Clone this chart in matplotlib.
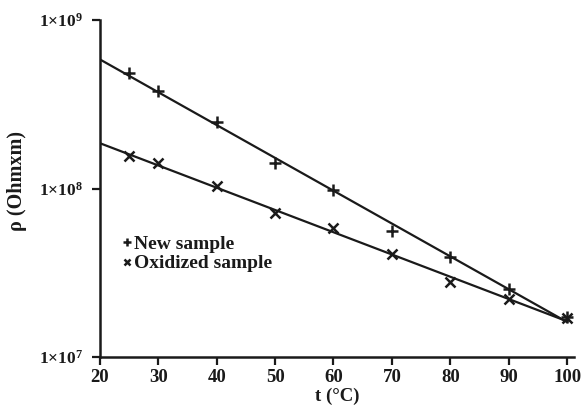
import numpy as np
import matplotlib
matplotlib.use("Agg")
import matplotlib.pyplot as plt
from matplotlib.ticker import FixedLocator, NullLocator

# -------------------------
# DATA
# -------------------------
temp_c = [25, 30, 40, 50, 60, 70, 80, 90, 100]
rho_new = [4.84e8, 3.79e8, 2.48e8, 1.42e8, 9.8e7, 5.6e7, 3.93e7, 2.54e7, 1.73e7]
rho_oxidized = [1.57e8, 1.41e8, 1.03e8, 7.13e7, 5.8e7, 4.06e7, 2.77e7, 2.21e7, 1.70e7]

x_ticks = [20, 30, 40, 50, 60, 70, 80, 90, 100]
y_ticks = [1e7, 1e8, 1e9]
y_tick_labels = [r"1×10$^{7}$", r"1×10$^{8}$", r"1×10$^{9}$"]

# -------------------------
# STYLE
# -------------------------
plt.rcParams["font.family"] = ["Liberation Serif", "DejaVu Serif"]
plt.rcParams["font.weight"] = "bold"
plt.rcParams["axes.labelweight"] = "bold"
plt.rcParams["mathtext.fontset"] = "custom"
plt.rcParams["mathtext.rm"] = "Liberation Serif:bold"
plt.rcParams["mathtext.it"] = "Liberation Serif:bold:italic"
plt.rcParams["mathtext.bf"] = "Liberation Serif:bold"

INK = "#1a1a1a"
FS = 13.5
LW = 1.6


def exp_fit_line(x, y, x0, x1):
    """Straight line in log space (least squares), evaluated on [x0, x1]."""
    k, b = np.polyfit(x, np.log10(y), 1)
    xs = np.array([x0, x1])
    return xs, 10 ** (k * xs + b)


fig = plt.figure(figsize=(5.84, 4.19), dpi=100)
ax = fig.add_axes([0.171, 0.148, 0.812, 0.804])

ax.set_yscale("log")

xs, ys = exp_fit_line(temp_c, rho_new, 20, 100)
ax.plot(xs, ys, color=INK, lw=LW)
xs, ys = exp_fit_line(temp_c, rho_oxidized, 20, 100)
ax.plot(xs, ys, color=INK, lw=LW)

ax.plot(temp_c, rho_new, linestyle="none", marker="+", ms=9, mew=1.8,
        color=INK, label="New sample")
ax.plot(temp_c, rho_oxidized, linestyle="none", marker="x", ms=7, mew=1.8,
        color=INK, label="Oxidized sample")

ax.set_xlim(20, 101.2)
ax.set_ylim(1e7, 1e9)

ax.xaxis.set_major_locator(FixedLocator(x_ticks))
ax.set_xticklabels([str(t) for t in x_ticks])
ax.yaxis.set_major_locator(FixedLocator(y_ticks))
ax.yaxis.set_minor_locator(NullLocator())
ax.set_yticklabels(y_tick_labels, fontsize=12.5)

ax.tick_params(axis="both", direction="out", length=6, width=1.6,
               color=INK, labelcolor=INK)
ax.tick_params(axis="x", labelsize=FS, pad=3)
ax.tick_params(axis="y", pad=6)

for side in ["top", "right"]:
    ax.spines[side].set_visible(False)
for side in ["left", "bottom"]:
    ax.spines[side].set_linewidth(1.8)
    ax.spines[side].set_color(INK)

ax.set_xlabel("t (°C)", fontsize=FS, color=INK, labelpad=1)
ax.set_ylabel("ρ (Ohmxm)", fontsize=14.5, color=INK)
ax.yaxis.set_label_coords(-0.154, 0.522)

ax.legend(loc="upper left", bbox_to_anchor=(0.018, 0.402), frameon=False,
          fontsize=14, handlelength=0.5, handletextpad=0.12,
          labelspacing=0.1, borderpad=0.2, markerscale=0.7,
          labelcolor=INK)

fig.savefig("out.png", dpi=100)
